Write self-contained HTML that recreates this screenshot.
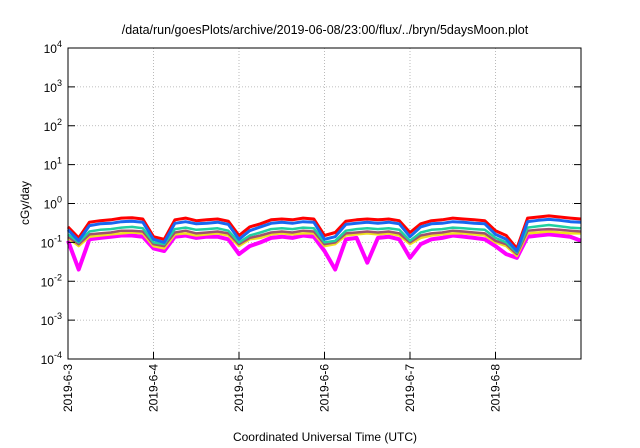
<!DOCTYPE html>
<html><head><meta charset="utf-8"><style>
body{margin:0;background:#fff}
svg{display:block;font-family:"Liberation Sans",sans-serif}
</style></head><body>
<svg id="chart" width="640" height="448" viewBox="0 0 640 448">
<text x="325" y="34" font-size="12.5" text-anchor="middle">/data/run/goesPlots/archive/2019-06-08/23:00/flux/../bryn/5daysMoon.plot</text>
<g id="grid"></g>
<g id="series"></g>
<rect x="68" y="48" width="513" height="311" fill="none" stroke="#000" stroke-width="1"/>
<g id="axes"></g>
<text transform="translate(29,203) rotate(-90)" font-size="12" text-anchor="middle">cGy/day</text>
<text x="325" y="441" font-size="12" text-anchor="middle">Coordinated Universal Time (UTC)</text>
</svg>
<script>
const dayLabels=["2019-6-3","2019-6-4","2019-6-5","2019-6-6","2019-6-7","2019-6-8"];
const yExponents=[-4,-3,-2,-1,0,1,2,3,4];
const hoursStep=3;
const red=[0.25,0.13,0.33,0.36,0.38,0.42,0.43,0.40,0.14,0.12,0.38,0.42,0.36,0.38,0.40,0.35,0.15,0.25,0.30,0.38,0.40,0.38,0.42,0.40,0.15,0.18,0.35,0.38,0.40,0.38,0.40,0.36,0.18,0.30,0.36,0.38,0.42,0.40,0.38,0.36,0.20,0.15,0.07,0.42,0.45,0.48,0.45,0.42,0.40];
const blue=[0.21,0.11,0.27,0.30,0.31,0.34,0.35,0.33,0.12,0.10,0.31,0.34,0.30,0.31,0.33,0.29,0.12,0.20,0.25,0.31,0.33,0.31,0.34,0.33,0.12,0.14,0.29,0.31,0.33,0.31,0.33,0.30,0.14,0.25,0.30,0.31,0.34,0.33,0.31,0.30,0.16,0.12,0.06,0.34,0.37,0.39,0.37,0.34,0.33];
const teal=[0.16,0.10,0.19,0.21,0.22,0.24,0.25,0.23,0.10,0.09,0.22,0.24,0.21,0.22,0.23,0.20,0.10,0.15,0.18,0.22,0.23,0.22,0.24,0.23,0.10,0.11,0.20,0.22,0.23,0.22,0.23,0.21,0.11,0.18,0.21,0.22,0.24,0.23,0.22,0.21,0.13,0.10,0.055,0.24,0.26,0.28,0.26,0.24,0.23];
const brown=[0.14,0.09,0.16,0.17,0.18,0.20,0.20,0.19,0.09,0.08,0.18,0.20,0.17,0.18,0.19,0.17,0.09,0.13,0.15,0.18,0.19,0.18,0.20,0.19,0.09,0.10,0.17,0.18,0.19,0.18,0.19,0.17,0.10,0.15,0.17,0.18,0.20,0.19,0.18,0.17,0.11,0.09,0.05,0.20,0.21,0.22,0.21,0.20,0.19];
const yellow=[0.13,0.08,0.14,0.15,0.16,0.17,0.18,0.17,0.08,0.07,0.16,0.17,0.15,0.16,0.17,0.15,0.08,0.12,0.13,0.16,0.17,0.16,0.17,0.17,0.08,0.09,0.15,0.16,0.17,0.16,0.17,0.15,0.09,0.13,0.15,0.16,0.17,0.17,0.16,0.15,0.10,0.08,0.045,0.17,0.18,0.19,0.18,0.17,0.17];
const magenta=[0.11,0.02,0.12,0.13,0.14,0.15,0.15,0.14,0.07,0.06,0.14,0.15,0.13,0.14,0.14,0.12,0.05,0.08,0.10,0.13,0.14,0.13,0.15,0.14,0.06,0.02,0.12,0.13,0.03,0.13,0.14,0.12,0.04,0.09,0.12,0.13,0.15,0.14,0.13,0.12,0.08,0.05,0.04,0.14,0.15,0.16,0.15,0.14,0.11];

const NS="http://www.w3.org/2000/svg";
const L=68,R=581,T=48,B=359;
function xScale(h){return L+h/(24*6)*(R-L);}
function yScale(v){return B-(Math.log10(v)+4)/8*(B-T);}
function mk(tag,attrs,parent){const e=document.createElementNS(NS,tag);for(const k in attrs)e.setAttribute(k,attrs[k]);parent.appendChild(e);return e;}
const grid=document.getElementById('grid'),axes=document.getElementById('axes'),ser=document.getElementById('series');
yExponents.forEach(p=>{
  const y=yScale(Math.pow(10,p));
  if(p>-4&&p<4){const g=mk('line',{x1:L,x2:R,y1:y,y2:y,stroke:'#aaa','stroke-width':0.8,'stroke-dasharray':'1,2'},grid);
  
  }
  const t1=mk('line',{x1:L,x2:L+7,y1:y,y2:y,stroke:'#000'},axes);
  
  
  const t2=mk('line',{x1:R-7,x2:R,y1:y,y2:y,stroke:'#000'},axes);
  
  
  const tx=mk('text',{x:L-6,y:y+5,'font-size':12,'text-anchor':'end'},axes);
  
  
  tx.textContent='10';
  const sp=mk('tspan',{dy:-6,'font-size':9},tx);sp.textContent=String(p);
});
dayLabels.forEach((d,i)=>{
  const x=xScale(i*24);
  if(i>0){const g=mk('line',{x1:x,x2:x,y1:T,y2:B,stroke:'#aaa','stroke-width':0.8,'stroke-dasharray':'1,2'},grid);
  
  }
  const t=mk('line',{x1:x,x2:x,y1:B-7,y2:B,stroke:'#000'},axes);
  
  
  const tx=mk('text',{transform:`translate(${x+4},${B+5}) rotate(-90)`,'font-size':12,'text-anchor':'end'},axes);
  
  
  tx.textContent=d;
});
const seriesList=[[magenta,'#ff00ff','series-magenta',4],[yellow,'#f0e020','series-yellow',2.5],[brown,'#a05070','series-brown',2.5],[teal,'#20d0a0','series-teal',2.5],[red,'#ff0000','series-red',3],[blue,'#1868f0','series-blue',3]];
seriesList.forEach(([arr,col,name,w])=>{
  const pts=arr.map((v,i)=>xScale(i*hoursStep).toFixed(1)+','+yScale(v).toFixed(1)).join(' ');
  const pl=mk('polyline',{points:pts,fill:'none',stroke:col,'stroke-width':w,'stroke-linejoin':'round'},ser);
  
  
});
</script>
</body></html>
